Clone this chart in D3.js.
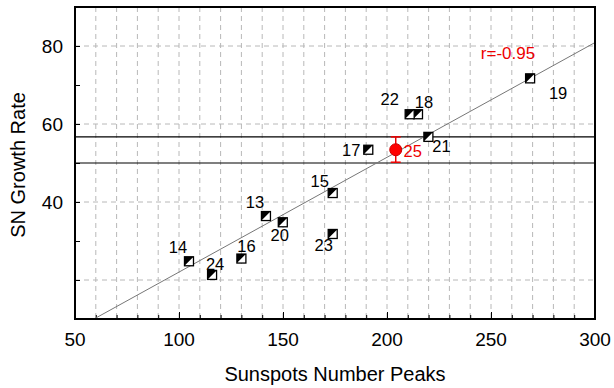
<!DOCTYPE html>
<html>
  <head>
    <script src="https://d3js.org/d3.v7.min.js"></script>
    <style>
      body { margin: 0; background: #fff; }
      text { font-family: "Liberation Sans", Arial, sans-serif; }
    </style>
  </head>
  <body>
    <svg width="614" height="388"></svg>
    <script type="text/javascript">
      // cycle data: sunspot peak vs growth rate
      var cycles = ["13", "14", "15", "16", "17", "18", "19", "20", "21", "22", "23", "24"];
      var peaks = [141.8, 104.8, 173.9, 130, 191, 214.9, 268.8, 149.9, 219.9, 210.9, 173.9, 115.9];
      var rates = [36.4, 24.8, 42.3, 25.5, 53.4, 62.5, 71.7, 34.8, 56.7, 62.5, 31.8, 21.3];
      // label offsets (px) from each marker
      var labelDx = [-11, -11, -13, 5, -17, 6, 28, -3, 13, -20, -9, 3];
      var labelDy = [-14, -14, -12, -13, 0, -12, 15, 13, 9, -15, 11, -11];

      // prediction for cycle 25
      var predCycle = "25";
      var predPeak = 204.2;
      var predRate = 53.4;
      var predLow = 50.2;
      var predHigh = 56.7;
      var bandLines = [50, 56.7];

      // regression fit
      var fitSlope = 0.2943;
      var fitIntercept = -7.4;
      var fitText = "r=-0.95";

      var xTicks = [50, 100, 150, 200, 250, 300];
      var yTicks = [40, 60, 80];

      var svg = d3.select("svg");
      var pLeft = 75, pRight = 595, pTop = 7, pBottom = 319;

      var x = d3.scaleLinear().domain([50, 300]).range([pLeft, pRight]);
      var y = d3.scaleLinear().domain([10, 90]).range([pBottom, pTop]);

      svg.append("defs").append("clipPath").attr("id", "clip")
        .append("rect")
        .attr("x", pLeft).attr("y", pTop)
        .attr("width", pRight - pLeft).attr("height", pBottom - pTop);

      // grid
      var grid = svg.append("g").attr("stroke", "#b8b8b8").attr("stroke-dasharray", "5,4");
      grid.selectAll(null)
        .data(d3.range(60, 300, 10))
        .enter()
        .append("line")
        .attr("x1", (d) => x(d)).attr("x2", (d) => x(d))
        .attr("y1", pTop).attr("y2", pBottom);
      grid.selectAll(null)
        .data([20, 40, 60, 80])
        .enter()
        .append("line")
        .attr("x1", pLeft).attr("x2", pRight)
        .attr("y1", (d) => y(d)).attr("y2", (d) => y(d));

      // ticks inside the frame
      var xAxis = d3.axisTop(x).tickValues(d3.range(60, 300, 10)).tickSize(4).tickFormat("");
      svg.append("g").attr("transform", "translate(0," + pBottom + ")").call(xAxis)
        .call((g) => g.select(".domain").remove());
      var xMajor = d3.axisTop(x).tickValues(xTicks).tickSize(7).tickFormat("");
      svg.append("g").attr("transform", "translate(0," + pBottom + ")").call(xMajor)
        .call((g) => g.select(".domain").remove());
      var yAxis = d3.axisRight(y).tickValues([20, 30, 40, 50, 60, 70, 80]).tickSize(5).tickFormat("");
      svg.append("g").attr("transform", "translate(" + pLeft + ",0)").call(yAxis)
        .call((g) => g.select(".domain").remove());

      // tick labels
      svg.selectAll(null)
        .data(xTicks)
        .enter()
        .append("text")
        .attr("x", (d) => x(d))
        .attr("y", 346)
        .attr("text-anchor", "middle")
        .attr("font-size", 19)
        .text((d) => d);
      svg.selectAll(null)
        .data(yTicks)
        .enter()
        .append("text")
        .attr("x", 63)
        .attr("y", (d) => y(d) + 7)
        .attr("text-anchor", "end")
        .attr("font-size", 19)
        .text((d) => d);

      // axis titles
      svg.append("text")
        .attr("x", 335).attr("y", 381)
        .attr("text-anchor", "middle")
        .attr("font-size", 20)
        .text("Sunspots Number Peaks");
      svg.append("text")
        .attr("transform", "translate(25,165) rotate(-90)")
        .attr("text-anchor", "middle")
        .attr("font-size", 20)
        .text("SN Growth Rate");

      var plot = svg.append("g").attr("clip-path", "url(#clip)");

      // band lines
      plot.selectAll(null)
        .data(bandLines)
        .enter()
        .append("line")
        .attr("x1", pLeft).attr("x2", pRight)
        .attr("y1", (d) => y(d)).attr("y2", (d) => y(d))
        .attr("stroke", "#000")
        .attr("stroke-width", 1.2);

      // fit line
      var fitX = [(10 - fitIntercept) / fitSlope, 300];
      plot.append("path")
        .attr("d", d3.line().x((d) => x(d)).y((d) => y(fitSlope * d + fitIntercept))(fitX))
        .attr("fill", "none")
        .attr("stroke", "#777")
        .attr("stroke-width", 1);

      // markers: half filled squares
      var s = 9;
      var marks = svg.selectAll(".mark")
        .data(cycles)
        .enter()
        .append("g")
        .attr("class", "mark")
        .attr("transform", (d, i) => "translate(" + x(peaks[i]) + "," + y(rates[i]) + ")");
      marks.append("rect")
        .attr("x", -s / 2).attr("y", -s / 2)
        .attr("width", s).attr("height", s)
        .attr("fill", "#fff");
      marks.append("path")
        .attr("d", "M" + (-s / 2) + "," + (-s / 2) + "H" + (s / 2) + "L" + (-s / 2) + "," + (s / 2) + "Z")
        .attr("fill", "#000");
      marks.append("rect")
        .attr("x", -s / 2).attr("y", -s / 2)
        .attr("width", s).attr("height", s)
        .attr("fill", "none")
        .attr("stroke", "#000")
        .attr("stroke-width", 1.3);
      marks.append("text")
        .attr("x", (d, i) => labelDx[i])
        .attr("y", (d, i) => labelDy[i] + 6)
        .attr("text-anchor", "middle")
        .attr("font-size", 16.5)
        .text((d) => d);

      // prediction with error bar
      var px = x(predPeak);
      var pred = svg.append("g").attr("stroke", "#e00").attr("stroke-width", 1.5);
      pred.append("line").attr("x1", px).attr("x2", px).attr("y1", y(predLow)).attr("y2", y(predHigh));
      pred.selectAll(null)
        .data([predLow, predHigh])
        .enter()
        .append("line")
        .attr("x1", px - 5).attr("x2", px + 5)
        .attr("y1", (d) => y(d)).attr("y2", (d) => y(d));
      svg.append("circle")
        .attr("cx", px).attr("cy", y(predRate))
        .attr("r", 6)
        .attr("fill", "#f00")
        .attr("stroke", "#c00");
      svg.append("text")
        .attr("x", px + 17).attr("y", y(predRate) + 7)
        .attr("text-anchor", "middle")
        .attr("font-size", 16.5)
        .attr("fill", "#e00")
        .text(predCycle);

      svg.append("text")
        .attr("x", 508).attr("y", 59)
        .attr("text-anchor", "middle")
        .attr("font-size", 17)
        .attr("fill", "#e00")
        .text(fitText);

      // frame
      svg.append("rect")
        .attr("x", pLeft).attr("y", pTop)
        .attr("width", pRight - pLeft).attr("height", pBottom - pTop)
        .attr("fill", "none")
        .attr("stroke", "#000")
        .attr("stroke-width", 2);
    </script>
  </body>
</html>
